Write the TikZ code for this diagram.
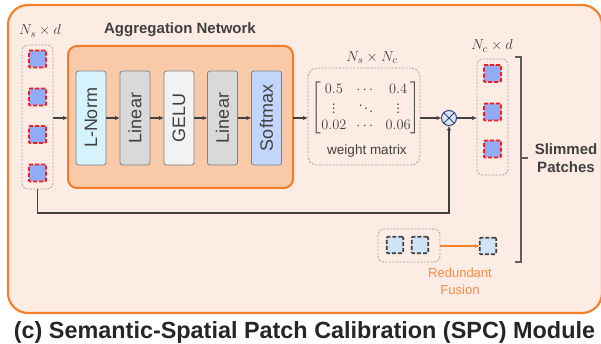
\documentclass[tikz,border=0pt]{standalone}
\usepackage[no-math]{fontspec}
\setmainfont{Liberation Sans}
\usepackage{amsmath}
\usetikzlibrary{arrows.meta,calc}

\definecolor{outerfill}{HTML}{FDECE4}
\definecolor{outerdraw}{HTML}{F5822A}
\definecolor{aggfill}{HTML}{F9CAAA}
\definecolor{aggdraw}{HTML}{F47A24}
\definecolor{lnormfill}{HTML}{D6F2FC}
\definecolor{linfill}{HTML}{D9D9D9}
\definecolor{gelufill}{HTML}{F2F2F2}
\definecolor{softfill}{HTML}{C2D5FA}
\definecolor{blockdraw}{HTML}{808080}
\definecolor{patchfill}{HTML}{92ABF5}
\definecolor{patchred}{HTML}{FF1A1A}
\definecolor{redfill}{HTML}{D0E2F5}
\definecolor{reddraw}{HTML}{404040}
\definecolor{arrc}{HTML}{404040}
\definecolor{txt}{HTML}{404040}
\definecolor{orangetxt}{HTML}{F58B45}
\definecolor{otfill}{HTML}{DDE5F5}
\definecolor{otdraw}{HTML}{2F4A7A}
\definecolor{contdraw}{HTML}{A0A0A0}

\begin{document}
\begin{tikzpicture}[x=1pt,y=-1pt,
  frame/.style={inner sep=0pt, outer sep=0pt},
  block/.style={frame, draw=blockdraw, line width=0.8pt, rounded corners=2.5pt,
    minimum width=30pt, minimum height=94pt, text=txt,
    font=\fontsize{18}{20}\selectfont},
  cont/.style={frame, draw=contdraw, dash pattern=on 2pt off 1.5pt,
    line width=0.8pt, rounded corners=6pt},
  patch/.style={frame, draw=patchred, fill=patchfill, dash pattern=on 4pt off 2pt,
    line width=1.8pt, minimum size=17pt, rounded corners=1pt},
  rpatch/.style={frame, draw=reddraw, fill=redfill, dash pattern=on 4pt off 2pt,
    line width=1.6pt, minimum size=16.5pt, rounded corners=1pt},
  arr/.style={draw=arrc, line width=1.3pt, -{Latex[length=5pt,width=4.5pt]}},
  mlbl/.style={text=txt, font=\fontsize{15.5}{17}\selectfont},
]
\useasboundingbox (0,0) rectangle (601,344);

% outer module frame
\node[frame, draw=outerdraw, fill=outerfill, line width=2.2pt, rounded corners=20pt,
  minimum width=594pt, minimum height=308pt] (outer) at (305,159) {};

% aggregation network
\node[frame, draw=aggdraw, fill=aggfill, line width=2pt, rounded corners=9pt,
  minimum width=225pt, minimum height=142pt] (agg) at (180.5,117) {};
\node[text=txt, font=\bfseries\fontsize{15}{17}\selectfont] (aggl) at (180,30) {Aggregation Network};

\node[block, fill=lnormfill] (b1) at (91,118)  {\rotatebox{90}{L-Norm}};
\node[block, fill=linfill]   (b2) at (135,118) {\rotatebox{90}{Linear}};
\node[block, fill=gelufill]  (b3) at (179,118) {\rotatebox{90}{GELU}};
\node[block, fill=linfill]   (b4) at (222.5,118) {\rotatebox{90}{Linear}};
\node[block, fill=softfill]  (b5) at (266.5,118) {\rotatebox{90}{Softmax}};

\draw[arr] (b1) -- (b2);
\draw[arr] (b2) -- (b3);
\draw[arr] (b3) -- (b4);
\draw[arr] (b4) -- (b5);

% input patches
\node[cont, minimum width=31pt, minimum height=144pt] (in) at (37.5,117) {};
\node[mlbl] (inl) at (40,31) {$N_s\times d$};
\node[patch] (p1) at (37.5,59) {};
\node[patch] (p2) at (37.5,97) {};
\node[patch] (p3) at (37.5,134.5) {};
\node[patch] (p4) at (37.5,173) {};

% weight matrix
\node[cont, minimum width=112pt, minimum height=97pt, rounded corners=9pt] (wm) at (364,116.5) {};
\node[mlbl] (wml) at (372,58) {$N_s\times N_c$};
\node[text=txt, font=\fontsize{13.5}{15}\selectfont] (mat) at (366,108)
  {\renewcommand{\arraystretch}{1.05}$\left[\begin{matrix}0.5 & \cdots & 0.4\\ \vdots & \ddots & \vdots\\ 0.02 & \cdots & 0.06\end{matrix}\right]$};
\node[text=txt, font=\fontsize{13.5}{15}\selectfont] (wmt) at (367,151) {weight matrix};

% weighting operator
\node[frame, circle, draw=otdraw, fill=otfill, line width=1pt, minimum size=15pt] (ot) at (449,118) {};
\draw[otdraw, line width=1pt] (ot.north west) -- (ot.south east) (ot.north east) -- (ot.south west);

% slimmed patches
\node[cont, minimum width=31pt, minimum height=116pt] (out) at (492.5,117) {};
\node[mlbl] (outl) at (492,46) {$N_c\times d$};
\node[patch] (q1) at (492.5,73.5) {};
\node[patch] (q2) at (492.5,112) {};
\node[patch] (q3) at (492.5,149) {};

% main flow
\draw[arr] (in.east |- b1) -- (agg.west |- b1);
\draw[arr] (agg.east |- b5) -- (wm.west |- b5);
\draw[arr] (wm.east |- ot) -- (ot.west);
\draw[arr] (ot.east) -- (out.west |- ot);
\coordinate (fb) at (0,213);
\draw[arr] (in.south) |- (ot |- fb) -- (ot.south);

% redundant fusion
\node[cont, minimum width=62pt, minimum height=33pt, rounded corners=6pt] (rb) at (409,245.5) {};
\node[rpatch] (r1) at (395,245) {};
\node[rpatch] (r2) at (420,245) {};
\node[rpatch] (r3) at (488,246) {};
\draw[draw=outerdraw, line width=1.3pt, -{Latex[length=5pt,width=4.5pt]}] (rb.east |- r3) -- (r3.west);
\node[text=orangetxt, align=center, font=\fontsize{13}{17}\selectfont] (rf) at (460,281) {Redundant\\Fusion};

% bracket and its label
\node[text=txt, align=center, font=\bfseries\fontsize{15}{18}\selectfont] (sp) at (566,158) {Slimmed\\Patches};
\coordinate (bt) at (521,57);
\coordinate (bb) at (521,262);
\draw[draw=arrc!85, line width=1.3pt] ($(bt)+(-6,0)$) -- (bt) -- (bb) -- ++(-6,0);
\draw[draw=arrc!85, line width=1.3pt] (bt |- sp) -- ++(7,0);

% caption
\node[text=black!85, font=\bfseries\fontsize{23.4}{26}\selectfont] (title) at (304.5,332)
  {(c) Semantic-Spatial Patch Calibration (SPC) Module};
\end{tikzpicture}
\end{document}
